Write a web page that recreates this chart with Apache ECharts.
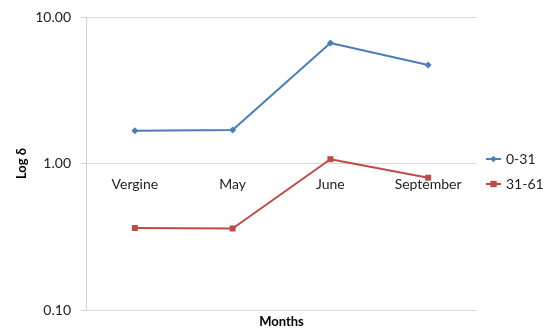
<!DOCTYPE html>
<html>
<head>
<meta charset="utf-8">
<style>
  html, body { margin: 0; padding: 0; background: #fff; }
  #chart { width: 544px; height: 329px; }
</style>
<script src="https://cdn.jsdelivr.net/npm/echarts@6/dist/echarts.min.js"></script>
</head>
<body>
<div id="chart"></div>
<script>
// Sampling months and log-scale values per depth class
const months = ['Vergine', 'May', 'June', 'September'];
const depth0to31 = [1.67, 1.69, 6.65, 4.71];
const depth31to61 = [0.363, 0.360, 1.07, 0.80];
const seriesNames = ['0-31', '31-61'];

const FONT = 'Lato, "Open Sans", sans-serif';
const chart = echarts.init(document.getElementById('chart'));

chart.setOption({
  backgroundColor: '#ffffff',
  animation: false,
  grid: { left: 86, right: 67, top: 17, bottom: 19, containLabel: false, outerBoundsMode: 'none' },
  legend: {
    orient: 'vertical',
    left: 485,
    top: 152,
    padding: 0,
    itemWidth: 15,
    itemHeight: 8,
    itemGap: 11,
    textStyle: { fontFamily: FONT, fontSize: 14, color: '#222' },
    data: seriesNames
  },
  xAxis: {
    type: 'category',
    data: months,
    boundaryGap: true,
    name: 'Months',
    nameLocation: 'middle',
    nameGap: 5,
    nameMoveOverlap: false,
    nameTextStyle: { fontFamily: FONT, fontSize: 13, fontWeight: 'bold', color: '#000' },
    axisLine: { show: false },
    axisTick: { show: false },
    axisLabel: {
      margin: -133,
      fontFamily: FONT,
      fontSize: 14,
      color: '#222'
    }
  },
  yAxis: {
    type: 'log',
    logBase: 10,
    min: 0.1,
    max: 10,
    name: 'Log δ',
    nameLocation: 'middle',
    nameGap: 58,
    nameMoveOverlap: false,
    nameTextStyle: { fontFamily: FONT, fontSize: 13, fontWeight: 'bold', color: '#000' },
    axisLine: { show: true, lineStyle: { color: '#d0d0d0', width: 1 } },
    axisTick: { show: true, length: 5, lineStyle: { color: '#d0d0d0' } },
    axisLabel: {
      margin: 15,
      fontFamily: FONT,
      fontSize: 14,
      color: '#222',
      formatter: v => Number(v).toFixed(2)
    },
    splitLine: { show: true, lineStyle: { color: '#d9d9d9', width: 1 } }
  },
  series: [
    {
      name: seriesNames[0],
      type: 'line',
      data: depth0to31,
      symbol: 'diamond',
      symbolSize: 7,
      lineStyle: { color: '#4a7ebb', width: 2 },
      itemStyle: { color: '#4a7ebb' }
    },
    {
      name: seriesNames[1],
      type: 'line',
      data: depth31to61,
      symbol: 'rect',
      symbolSize: 6,
      lineStyle: { color: '#be4b48', width: 2 },
      itemStyle: { color: '#be4b48' }
    }
  ]
});
</script>
</body>
</html>
